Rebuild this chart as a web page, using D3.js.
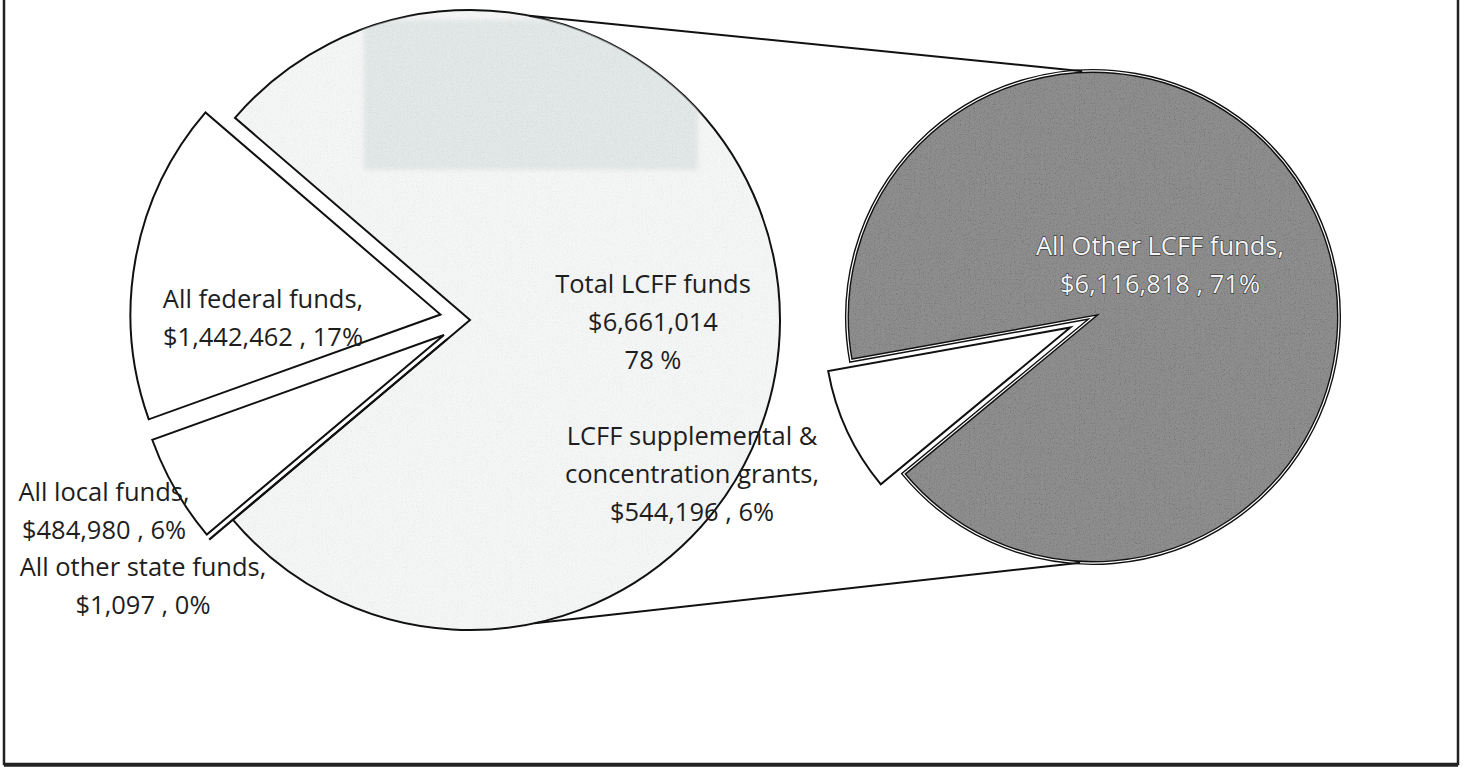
<!DOCTYPE html>
<html>
<head>
<meta charset="utf-8">
<script src="https://cdn.jsdelivr.net/npm/d3@7"></script>
<style>
  html, body { margin: 0; padding: 0; background: #fff; }
  svg { display: block; }
  .lbl { font-family: "Open Sans", sans-serif; font-size: 25.5px; fill: #1e1e1e; }
  .lbl-dark { fill: #f4f4f4; stroke: #3a3a3a; stroke-width: 1.3px; paint-order: stroke; }
</style>
</head>
<body>
<svg id="chart" width="1464" height="767"></svg>
<script>
// main pie, clockwise from the upper-left edge of the LCFF slice
var mainNames = ['Total LCFF funds', 'All other state funds', 'All local funds', 'All federal funds'];
var mainValues = [6661014, 1097, 484980, 1442462];
// second pie splits the LCFF slice
var subNames = ['All Other LCFF funds', 'LCFF supplemental & concentration grants'];
var subValues = [6116818, 544196];
var subNameLines = [['All Other LCFF funds,'], ['LCFF supplemental &', 'concentration grants,']];

(function() {
  'use strict';

  var svg = d3.select('#chart');
  var defs = svg.append('defs');
  var deg = Math.PI / 180;
  var fmt = d3.format('$,');
  var grandTotal = d3.sum(mainValues);
  var pct = function(v) { return Math.round(v / grandTotal * 100); };

  // layout
  var main = {cx: 470, cy: 320, r: 310, start: -49.3 * deg, explode: [0, 30, 30, 30]};
  var sub = {cx: 1093, cy: 317, r: 246, start: -100.2 * deg, explode: [0, 25]};
  var lineH = 38;

  // scanned-paper grain
  var addGrain = function(id, slope, intercept, blur) {
    var f = defs.append('filter').attr('id', id);
    f.append('feTurbulence').attr('type', 'fractalNoise').attr('baseFrequency', 0.8)
      .attr('numOctaves', 2).attr('seed', 7).attr('result', 'noise');
    f.append('feColorMatrix').attr('in', 'noise').attr('type', 'saturate').attr('values', 0).attr('result', 'gray');
    var ct = f.append('feComponentTransfer').attr('in', 'gray').attr('result', 'g2');
    ['feFuncR', 'feFuncG', 'feFuncB'].forEach(function(k) {
      ct.append(k).attr('type', 'linear').attr('slope', slope).attr('intercept', intercept);
    });
    ct.append('feFuncA').attr('type', 'linear').attr('slope', 0).attr('intercept', 1);
    var src = 'SourceGraphic';
    if (blur) {
      f.append('feGaussianBlur').attr('in', 'SourceGraphic').attr('stdDeviation', blur).attr('result', 'soft');
      src = 'soft';
    }
    f.append('feBlend').attr('in', src).attr('in2', 'g2').attr('mode', 'multiply').attr('result', 'b');
    f.append('feComposite').attr('in', 'b').attr('in2', src).attr('operator', 'in');
  };
  addGrain('grainLight', 0.35, 0.82, 0);
  addGrain('grainPatch', 0.4, 0.8, 3);
  addGrain('grainDark', 1.25, 0.36, 0);

  var offset = function(d, dist) {
    var mid = (d.startAngle + d.endAngle) / 2;
    return [Math.sin(mid) * dist, -Math.cos(mid) * dist];
  };

  /* ---------- main pie ---------- */
  var mainPie = d3.pie().sort(null).value(function(d) { return d; })
    .startAngle(main.start).endAngle(main.start + 2 * Math.PI);
  var mainArcs = mainPie(mainValues);
  var mainArc = d3.arc().innerRadius(0).outerRadius(main.r);
  var mainFill = ['#f4f5f5', '#ffffff', '#ffffff', '#ffffff'];

  var gMain = svg.append('g').attr('transform', 'translate(' + main.cx + ',' + main.cy + ')');

  defs.append('clipPath').attr('id', 'lcffClip')
    .append('path').attr('d', mainArc(mainArcs[0]));

  var mainSlices = gMain.selectAll('g.slice').data(mainArcs).enter().append('g')
    .attr('class', 'slice')
    .attr('transform', function(d, i) {
      var o = offset(d, main.explode[i]);
      return 'translate(' + o[0] + ',' + o[1] + ')';
    });

  mainSlices.append('path')
    .attr('d', mainArc)
    .attr('fill', function(d, i) { return mainFill[i]; })
    .attr('filter', function(d, i) { return i === 0 ? 'url(#grainLight)' : null; });

  // faint scanner shadow inside the big slice
  gMain.append('g').attr('clip-path', 'url(#lcffClip)')
    .append('rect')
    .attr('x', 362 - main.cx).attr('y', 18 - main.cy)
    .attr('width', 338).attr('height', 154)
    .attr('fill', '#d3dada').attr('opacity', 0.55)
    .attr('filter', 'url(#grainPatch)');

  mainSlices.append('path')
    .attr('d', mainArc)
    .attr('fill', 'none')
    .attr('stroke', '#111')
    .attr('stroke-width', 2)
    .attr('stroke-linejoin', 'miter');

  /* ---------- second pie ---------- */
  var subPie = d3.pie().sort(null).value(function(d) { return d; })
    .startAngle(sub.start).endAngle(sub.start + 2 * Math.PI);
  var subArcs = subPie(subValues);
  var subArc = d3.arc().innerRadius(0).outerRadius(sub.r);

  var gSub = svg.append('g').attr('transform', 'translate(' + sub.cx + ',' + sub.cy + ')');
  var subSlices = gSub.selectAll('g.slice').data(subArcs).enter().append('g')
    .attr('class', 'slice')
    .attr('transform', function(d, i) {
      var o = offset(d, sub.explode[i]);
      return 'translate(' + o[0] + ',' + o[1] + ')';
    });

  subSlices.append('path')
    .attr('d', subArc)
    .attr('fill', function(d, i) { return i === 0 ? '#8e8e8e' : '#ffffff'; })
    .attr('filter', function(d, i) { return i === 0 ? 'url(#grainDark)' : null; });
  subSlices.append('path')
    .attr('d', subArc)
    .attr('fill', 'none')
    .attr('stroke', '#111')
    .attr('stroke-width', function(d, i) { return i === 0 ? 4 : 2; });
  subSlices.filter(function(d, i) { return i === 0; }).append('path')
    .attr('d', subArc)
    .attr('fill', 'none')
    .attr('stroke', '#fff')
    .attr('stroke-width', 1.2);

  /* ---------- connector lines ---------- */
  var onCircle = function(c, a) {
    return [c.cx + Math.sin(a) * c.r, c.cy - Math.cos(a) * c.r];
  };
  var connectors = [[11 * deg, -2.5 * deg], [168 * deg, 183 * deg]];
  svg.selectAll('line.conn').data(connectors).enter().append('line')
    .attr('class', 'conn')
    .attr('x1', function(d) { return onCircle(main, d[0])[0]; })
    .attr('y1', function(d) { return onCircle(main, d[0])[1]; })
    .attr('x2', function(d) { return onCircle(sub, d[1])[0]; })
    .attr('y2', function(d) { return onCircle(sub, d[1])[1]; })
    .attr('stroke', '#111')
    .attr('stroke-width', 2);

  /* ---------- labels ---------- */
  var mainLabelPos = [[653, 293], [143, 576], [104, 501], [263, 308]];
  var subLabelPos = [[1160, 255], [692, 445]];

  var labels = [];
  mainNames.forEach(function(n, i) {
    var v = mainValues[i];
    var lines = i === 0 ? [n, fmt(v), pct(v) + ' %'] : [n + ',', fmt(v) + ' , ' + pct(v) + '%'];
    labels.push({pos: mainLabelPos[i], lines: lines, dark: false});
  });
  subNames.forEach(function(n, i) {
    var v = subValues[i];
    labels.push({pos: subLabelPos[i], lines: subNameLines[i].concat([fmt(v) + ' , ' + pct(v) + '%']), dark: i === 0});
  });

  var txt = svg.selectAll('text.lbl').data(labels).enter().append('text')
    .attr('class', function(d) { return d.dark ? 'lbl lbl-dark' : 'lbl'; })
    .attr('text-anchor', 'middle');
  txt.selectAll('tspan').data(function(d) {
    return d.lines.map(function(l, k) { return {t: l, x: d.pos[0], y: d.pos[1] + k * lineH}; });
  }).enter().append('tspan')
    .attr('x', function(d) { return d.x; })
    .attr('y', function(d) { return d.y; })
    .text(function(d) { return d.t; });

  // frame
  svg.append('rect')
    .attr('x', 4).attr('y', -4).attr('width', 1454).attr('height', 768)
    .attr('fill', 'none').attr('stroke', '#222').attr('stroke-width', 2.5);
  svg.append('line')
    .attr('x1', 4).attr('x2', 1458).attr('y1', 765).attr('y2', 765)
    .attr('stroke', '#222').attr('stroke-width', 3.5);
})();
</script>
</body>
</html>
